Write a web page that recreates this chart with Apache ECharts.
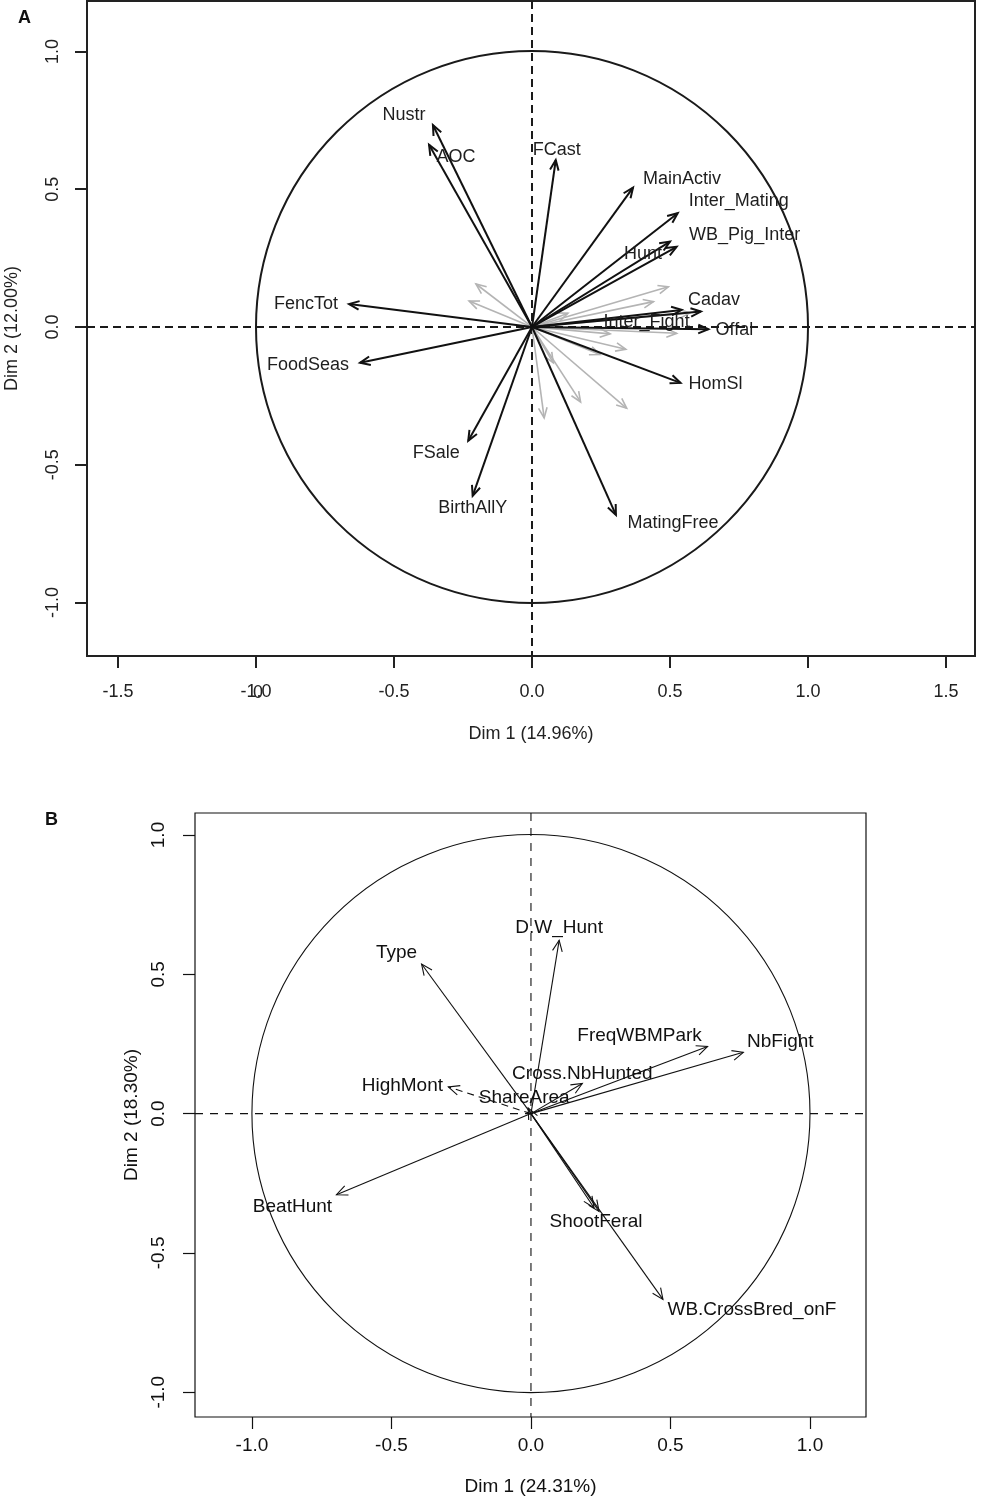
<!DOCTYPE html>
<html>
<head>
<meta charset="utf-8">
<title>PCA variable factor maps</title>
<script src="https://cdn.jsdelivr.net/npm/echarts@6/dist/echarts.min.js"></script>
<style>
  html, body { margin: 0; background: #fff; }
  #chart { width: 987px; height: 1499px; }
</style>
</head>
<body>
<div id="chart"></div>
<script>
// ---- panel A: active variables (black) ----
const namesA = ['Nustr', 'AOC', 'FCast', 'MainActiv', 'Inter_Mating', 'WB_Pig_Inter', 'Hunt',
  'Cadav', 'Inter_Fight', 'Offal', 'HomSl', 'FencTot', 'FoodSeas', 'FSale', 'BirthAllY', 'MatingFree'];
const dim1A = [-0.359, -0.373, 0.086, 0.366, 0.528, 0.524, 0.500,
  0.612, 0.542, 0.639, 0.538, -0.663, -0.623, -0.231, -0.215, 0.304];
const dim2A = [0.733, 0.661, 0.606, 0.506, 0.413, 0.291, 0.310,
  0.056, 0.062, -0.008, -0.203, 0.083, -0.130, -0.413, -0.613, -0.682];
// unlabeled variables (grey)
const greyDim1A = [-0.203, -0.228, 0.494, 0.440, 0.283, 0.340, 0.343, 0.176, 0.044, 0.524, 0.077, 0.246, 0.130, 0.572];
const greyDim2A = [0.156, 0.094, 0.146, 0.092, -0.025, -0.081, -0.295, -0.272, -0.330, -0.023, -0.130, -0.100, 0.050, 0.051];
const ticksAx = [-1.5, -1, -0.5, 0, 0.5, 1, 1.5];
const ticksAy = [-1, -0.5, 0, 0.5, 1];

// ---- panel B ----
const namesB = ['Type', 'D.W_Hunt', 'FreqWBMPark', 'NbFight', 'Cross.NbHunted', 'HighMont',
  'ShareArea', 'BeatHunt', 'ShootFeral', '', 'WB.CrossBred_onF'];
const dim1B = [-0.392, 0.101, 0.633, 0.761, 0.184, -0.296, -0.010, -0.697, 0.244, 0.226, 0.473];
const dim2B = [0.537, 0.622, 0.241, 0.220, 0.108, 0.096, 0.020, -0.291, -0.351, -0.338, -0.667];
const dashedB = ['HighMont'];
const ticksB = [-1, -0.5, 0, 0.5, 1];

// label centre offsets from the arrow tip, in px
const shiftA = {
  Nustr: [-29, -10], AOC: [27, 12], FCast: [1, -10], MainActiv: [49, -9],
  Inter_Mating: [61, -12], WB_Pig_Inter: [68, -12], Hunt: [-27, 12], Cadav: [13, -12],
  Inter_Fight: [-35, 12], Offal: [26, 1], HomSl: [35, 1], FencTot: [-43, 0],
  FoodSeas: [-52, 2], FSale: [-32, 12], BirthAllY: [0, 12], MatingFree: [57, 8]
};
const shiftB = {
  Type: [-25, -11], 'D.W_Hunt': [0, -13], FreqWBMPark: [-68, -11], NbFight: [37, -11],
  'Cross.NbHunted': [0, -10], HighMont: [-46, -1], ShareArea: [-4, -10], BeatHunt: [-44, 12],
  ShootFeral: [-3, 10], 'WB.CrossBred_onF': [89, 10]
};

const FONT = '"Liberation Sans", Arial, Helvetica, sans-serif';

function arrows(cfg) {
  return function (params, api) {
    const o = api.coord([0, 0]);
    const p = api.coord([api.value(0), api.value(1)]);
    const ang = Math.atan2(p[1] - o[1], p[0] - o[0]);
    const L = cfg.head, a = cfg.spread;
    const w1 = [p[0] - L * Math.cos(ang - a), p[1] - L * Math.sin(ang - a)];
    const w2 = [p[0] - L * Math.cos(ang + a), p[1] - L * Math.sin(ang + a)];
    const name = cfg.names ? cfg.names[params.dataIndex] : '';
    const dashed = cfg.dashed && cfg.dashed.indexOf(name) >= 0;
    const kids = [
      { type: 'line', shape: { x1: o[0], y1: o[1], x2: p[0], y2: p[1] },
        style: { stroke: cfg.color, lineWidth: cfg.width, lineDash: dashed ? [7, 5] : null } },
      { type: 'polyline', shape: { points: [w1, p, w2] },
        style: { stroke: cfg.color, lineWidth: cfg.width, fill: 'none', lineJoin: 'miter' } }
    ];
    if (name) {
      const s = cfg.shift[name] || [0, 0];
      kids.push({ type: 'text', style: { text: name, x: p[0] + s[0], y: p[1] + s[1],
        align: 'center', verticalAlign: 'middle', font: cfg.font, fill: cfg.textColor } });
    }
    return { type: 'group', children: kids };
  };
}

function frame(cfg) {
  return function (params, api) {
    const c = api.coord([0, 0]);
    const r = api.size([1, 1]);
    const cs = params.coordSys;
    const ls = { stroke: cfg.color, lineWidth: cfg.width, lineDash: cfg.dash };
    return { type: 'group', children: [
      { type: 'line', shape: { x1: cs.x, y1: c[1], x2: cs.x + cs.width, y2: c[1] }, style: ls },
      { type: 'line', shape: { x1: c[0], y1: cs.y, x2: c[0], y2: cs.y + cs.height }, style: ls },
      { type: 'circle', shape: { cx: c[0], cy: c[1], r: r[0] },
        style: { stroke: cfg.color, lineWidth: cfg.width, fill: 'none' } }
    ] };
  };
}

function axis(idx, min, max, ticks, o) {
  return {
    type: 'value', gridIndex: idx, min: min, max: max,
    splitLine: { show: false },
    axisLine: { show: false, onZero: false },
    axisTick: { show: true, length: 12, customValues: ticks,
      lineStyle: { color: o.color, width: o.width } },
    axisLabel: { customValues: ticks, margin: o.margin, rotate: o.rotate || 0,
      formatter: v => v.toFixed(1), color: o.color, fontSize: o.fontSize, fontFamily: FONT },
    name: o.name, nameLocation: 'middle', nameGap: o.nameGap, nameRotate: o.rotate || 0,
    nameTextStyle: { color: o.color, fontSize: o.fontSize, fontFamily: FONT }
  };
}

const chart = echarts.init(document.getElementById('chart'), null, { renderer: 'canvas' });

chart.setOption({
  animation: false,
  backgroundColor: '#fff',
  grid: [
    { left: 87, top: 1, width: 888, height: 655, show: true, borderColor: '#222', borderWidth: 2,
      backgroundColor: 'transparent', containLabel: false, outerBoundsMode: 'none' },
    { left: 195, top: 813, width: 671, height: 604, show: true, borderColor: '#111', borderWidth: 1.2,
      backgroundColor: 'transparent', containLabel: false, outerBoundsMode: 'none' }
  ],
  xAxis: [
    axis(0, -1.6123, 1.605, ticksAx, { color: '#222', width: 2, margin: 27, fontSize: 18, name: 'Dim 1 (14.96%)', nameGap: 69 }),
    axis(1, -1.204, 1.2007, ticksB, { color: '#111', width: 1.2, margin: 19, fontSize: 19, name: 'Dim 1 (24.31%)', nameGap: 60 })
  ],
  yAxis: [
    axis(0, -1.194, 1.183, ticksAy, { color: '#222', width: 2, margin: 25, fontSize: 18, rotate: 90, name: 'Dim 2 (12.00%)', nameGap: 66 }),
    axis(1, -1.089, 1.079, ticksB, { color: '#111', width: 1.2, margin: 27, fontSize: 19, rotate: 90, name: 'Dim 2 (18.30%)', nameGap: 54 })
  ],
  series: [
    { type: 'custom', xAxisIndex: 0, yAxisIndex: 0, clip: false, data: [[0, 0]],
      renderItem: frame({ color: '#1a1a1a', width: 2, dash: [8, 5] }) },
    { type: 'custom', xAxisIndex: 0, yAxisIndex: 0, clip: false,
      data: greyDim1A.map((x, i) => [x, greyDim2A[i]]),
      renderItem: arrows({ color: '#b4b4b4', width: 1.6, head: 11, spread: 0.4 }) },
    { type: 'custom', xAxisIndex: 0, yAxisIndex: 0, clip: false,
      data: dim1A.map((x, i) => [x, dim2A[i]]),
      renderItem: arrows({ names: namesA, shift: shiftA, color: '#111', width: 2, head: 11, spread: 0.4,
        font: '18px ' + FONT, textColor: '#1e1e1e' }) },
    { type: 'custom', xAxisIndex: 1, yAxisIndex: 1, clip: false, data: [[0, 0]],
      renderItem: frame({ color: '#111', width: 1.1, dash: [8, 7] }) },
    { type: 'custom', xAxisIndex: 1, yAxisIndex: 1, clip: false,
      data: dim1B.map((x, i) => [x, dim2B[i]]),
      renderItem: arrows({ names: namesB, shift: shiftB, dashed: dashedB, color: '#111', width: 1.1,
        head: 12, spread: 0.42, font: '19px ' + FONT, textColor: '#111' }) }
  ],
  graphic: [
    { type: 'text', left: 18, top: 9, style: { text: 'A', font: 'bold 18px ' + FONT, fill: '#111' } },
    { type: 'text', left: 45, top: 811, style: { text: 'B', font: 'bold 18px ' + FONT, fill: '#111' } },
    { type: 'text', x: 258, y: 693, style: { text: '0', font: '18px ' + FONT, fill: '#222', align: 'center', verticalAlign: 'middle' } }
  ]
});
</script>
</body>
</html>
